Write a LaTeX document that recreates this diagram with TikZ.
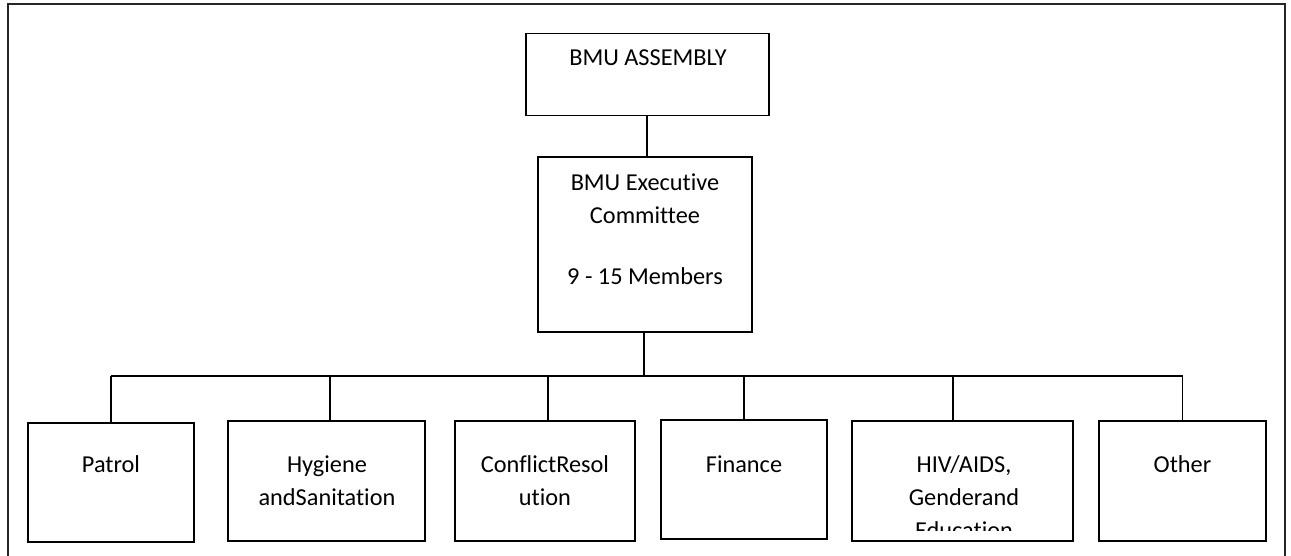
\documentclass[tikz,border=0pt]{standalone}
\usepackage{fontspec}
\setmainfont{Carlito}[Ligatures={NoCommon}]
\begin{document}
\begin{tikzpicture}[x=1pt,y=-1pt,
  box/.style={draw=black,line width=1.8pt,inner sep=0pt,outer sep=0pt,fill=white},
  txt/.style={anchor=base,inner sep=0pt,font=\fontsize{24.3}{33}\selectfont},
  link/.style={draw=black,line width=1.5pt}]
\useasboundingbox (0,0) rectangle (1291,556);
% outer frame (open at the bottom)
\draw[line width=2pt,draw=black!85] (7.5,556) -- (7.5,4.5) -- (1284.5,4.5) -- (1284.5,556);
% boxes
\node[box,minimum width=243pt,minimum height=82pt] (asm) at (647.5,74.6) {};
\node[box,minimum width=214pt,minimum height=175pt] (exec) at (645,244.5) {};
\node[box,minimum width=166pt,minimum height=119pt] (patrol) at (111,482.5) {};
\node[box,minimum width=197pt,minimum height=120pt] (hyg) at (326.5,481) {};
\node[box,minimum width=180pt,minimum height=120pt] (conf) at (545,481) {};
\node[box,minimum width=166pt,minimum height=119pt] (fin) at (744,479.5) {};
\node[box,minimum width=221pt,minimum height=120pt] (hiv) at (962.5,481) {};
\node[box,minimum width=167pt,minimum height=120pt] (other) at (1182.5,481) {};
% texts
\node[txt] (asmT) at (648,66) {BMU ASSEMBLY};
\node[txt] (execT1) at (645,191) {BMU Executive};
\node[txt] (execT2) at (645,224) {Committee};
\node[txt] (execT3) at (645,284) {9 - 15 Members};
\node[txt] (patrolT) at (111,472) {Patrol};
\node[txt] (hygT1) at (327,472) {Hygiene};
\node[txt] (hygT2) at (327,505) {andSanitation};
\node[txt] (confT1) at (545,472) {ConflictResol};
\node[txt] (confT2) at (545,505) {ution};
\node[txt] (finT) at (744,472) {Finance};
\node[txt] (hivT1) at (964,472) {HIV/AIDS,};
\node[txt] (hivT2) at (964,505) {Genderand};
\begin{scope}
\clip (853,420) rectangle (1072,530);
\node[txt] (hivT3) at (964,538) {Education};
\end{scope}
\node[txt] (otherT) at (1182.5,472) {Other};
% connectors
\coordinate (bus) at (644,376);
\draw[link] ([xshift=2pt]exec.north) -- ([xshift=2pt]exec.north |- asm.south);
\draw[link] ([xshift=-1pt]exec.south) -- ([xshift=-1pt]exec.south |- bus);
\draw[link] (patrol.north |- bus) -- (other.north |- bus);
\draw[link] (patrol.north) -- (patrol.north |- bus);
\draw[link] ([xshift=3.5pt]hyg.north) -- ([xshift=3.5pt]hyg.north |- bus);
\draw[link] ([xshift=3pt]conf.north) -- ([xshift=3pt]conf.north |- bus);
\draw[link] (fin.north) -- (fin.north |- bus);
\draw[link] ([xshift=-9.5pt]hiv.north) -- ([xshift=-9.5pt]hiv.north |- bus);
\draw[link] (other.north) -- (other.north |- bus);
\end{tikzpicture}
\end{document}
